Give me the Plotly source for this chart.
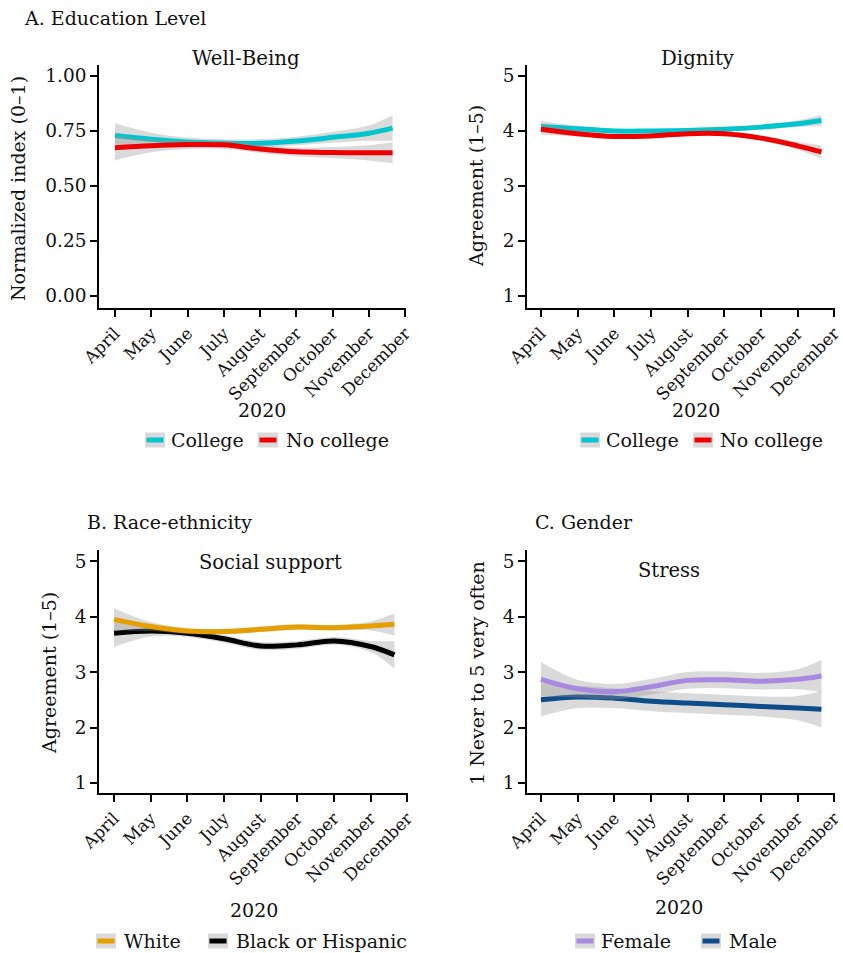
import plotly.graph_objects as go

W, H = 843, 953
FONT = "DejaVu Serif"

# ---------------- data ----------------
month_labels = ["April", "May", "June", "July", "August", "September",
                "October", "November", "December"]
month_ticks = [0, 1, 2, 3, 4, 5, 6, 7, 8]
t = [0, 1, 2, 3, 4, 5, 6, 7, 7.65]   # months since April 1, 2020

# A. Education level - Well-Being (0-1)
wb_college = [0.729, 0.712, 0.700, 0.694, 0.694, 0.704, 0.721, 0.740, 0.763]
wb_college_se = [0.056, 0.030, 0.020, 0.018, 0.018, 0.020, 0.025, 0.035, 0.058]
wb_nocollege = [0.674, 0.683, 0.688, 0.687, 0.668, 0.655, 0.652, 0.651, 0.651]
wb_nocollege_se = [0.058, 0.030, 0.020, 0.018, 0.018, 0.020, 0.025, 0.035, 0.048]

# A. Education level - Dignity (1-5)
dg_college = [4.08, 4.04, 4.00, 4.00, 4.01, 4.03, 4.07, 4.13, 4.19]
dg_college_se = [0.10, 0.05, 0.04, 0.035, 0.035, 0.04, 0.045, 0.06, 0.10]
dg_nocollege = [4.03, 3.95, 3.90, 3.91, 3.95, 3.95, 3.87, 3.73, 3.62]
dg_nocollege_se = [0.10, 0.05, 0.04, 0.035, 0.035, 0.04, 0.05, 0.07, 0.12]

# B. Race-ethnicity - Social support (1-5)
ss_white = [3.95, 3.82, 3.74, 3.73, 3.77, 3.81, 3.80, 3.83, 3.86]
ss_white_se = [0.20, 0.08, 0.05, 0.05, 0.05, 0.05, 0.05, 0.08, 0.20]
ss_black = [3.70, 3.74, 3.70, 3.60, 3.47, 3.49, 3.56, 3.46, 3.31]
ss_black_se = [0.25, 0.10, 0.07, 0.07, 0.07, 0.07, 0.07, 0.10, 0.25]

# C. Gender - Stress (1-5)
st_female = [2.87, 2.70, 2.645, 2.735, 2.85, 2.86, 2.835, 2.87, 2.93]
st_female_se = [0.31, 0.16, 0.14, 0.14, 0.15, 0.15, 0.15, 0.18, 0.29]
st_male = [2.50, 2.55, 2.53, 2.475, 2.44, 2.41, 2.38, 2.35, 2.33]
st_male_se = [0.30, 0.20, 0.18, 0.18, 0.18, 0.18, 0.18, 0.22, 0.33]

C_COLLEGE, C_NOCOLLEGE = "#00C5CD", "#EE0000"
C_WHITE, C_BLACK = "#E69F00", "#000000"
C_FEMALE, C_MALE = "#A889E0", "#0F4C8A"
RIBBON = "rgba(150,150,150,0.35)"
KEYFILL = "#D9D9D9"
FS = 19


def X(px):
    return px / W


def Y(py):
    return 1 - py / H


fig = go.Figure()

panels = {
    1: dict(xd=(99, 406), yd=(65, 308), xr=[-0.44, 8.02], yr=[-0.055, 1.05],
            tv=[0, 0.25, 0.5, 0.75, 1.0], tt=["0.00", "0.25", "0.50", "0.75", "1.00"]),
    2: dict(xd=(527, 835), yd=(65, 308), xr=[-0.38, 8.02], yr=[0.78, 5.2],
            tv=[1, 2, 3, 4, 5], tt=["1", "2", "3", "4", "5"]),
    3: dict(xd=(99, 408), yd=(550, 793), xr=[-0.41, 8.02], yr=[0.82, 5.2],
            tv=[1, 2, 3, 4, 5], tt=["1", "2", "3", "4", "5"]),
    4: dict(xd=(527, 835), yd=(550, 793), xr=[-0.38, 8.02], yr=[0.82, 5.2],
            tv=[1, 2, 3, 4, 5], tt=["1", "2", "3", "4", "5"]),
}

series = {
    1: [(wb_college, wb_college_se, C_COLLEGE), (wb_nocollege, wb_nocollege_se, C_NOCOLLEGE)],
    2: [(dg_college, dg_college_se, C_COLLEGE), (dg_nocollege, dg_nocollege_se, C_NOCOLLEGE)],
    3: [(ss_black, ss_black_se, C_BLACK), (ss_white, ss_white_se, C_WHITE)],
    4: [(st_male, st_male_se, C_MALE), (st_female, st_female_se, C_FEMALE)],
}

for k, p in panels.items():
    sfx = "" if k == 1 else str(k)
    xa, ya = "x" + sfx, "y" + sfx
    for vals, se, col in series[k]:
        lo = [v - s for v, s in zip(vals, se)]
        hi = [v + s for v, s in zip(vals, se)]
        fig.add_trace(go.Scatter(x=t, y=hi, mode="lines", line=dict(width=0, shape="spline"),
                                 xaxis=xa, yaxis=ya, showlegend=False, hoverinfo="skip"))
        fig.add_trace(go.Scatter(x=t, y=lo, mode="lines", line=dict(width=0, shape="spline"),
                                 fill="tonexty", fillcolor=RIBBON,
                                 xaxis=xa, yaxis=ya, showlegend=False, hoverinfo="skip"))
        fig.add_trace(go.Scatter(x=t, y=vals, mode="lines",
                                 line=dict(color=col, width=5, shape="spline"),
                                 xaxis=xa, yaxis=ya, showlegend=False))
    axis_common = dict(showline=True, linecolor="black", linewidth=1.5,
                       ticks="outside", ticklen=7, tickwidth=1.5, tickcolor="black",
                       showgrid=False, zeroline=False, automargin=False,
                       ticklabeloverflow="allow")
    fig.layout["xaxis" + sfx] = dict(
        domain=[X(p["xd"][0]), X(p["xd"][1])], range=p["xr"], anchor=ya,
        tickmode="array", tickvals=month_ticks, ticktext=month_labels, tickangle=-45,
        tickfont=dict(family=FONT, size=17, color="#111111"),
        **axis_common)
    fig.layout["yaxis" + sfx] = dict(
        domain=[Y(p["yd"][1]), Y(p["yd"][0])], range=p["yr"], anchor=xa,
        tickmode="array", tickvals=p["tv"], ticktext=p["tt"],
        tickfont=dict(family=FONT, size=18.5, color="#111111"),
        **axis_common)

ann = []


def text(x, y, s, size=FS, xanchor="center", angle=0):
    ann.append(dict(x=X(x), y=Y(y), xref="paper", yref="paper", text=s, showarrow=False,
                    xanchor=xanchor, yanchor="middle", textangle=angle,
                    font=dict(family=FONT, size=size, color="#111111")))


# section titles
text(22, 18, "A. Education Level", 19, "left")
text(85, 522, "B. Race-ethnicity", 19, "left")
text(533, 522, "C. Gender", 19, "left")
# panel titles
text(246, 58, "Well-Being", 19.8)
text(698, 58, "Dignity", 19.8)
text(270, 562, "Social support", 19.5)
text(669, 570, "Stress", 19.5)
# axis titles
text(262, 410, "2020")
text(696, 410, "2020")
text(254, 910, "2020")
text(679, 907, "2020")
text(18, 189, "Normalized index (0\u20131)", angle=-90)
text(476, 186, "Agreement (1\u20135)", angle=-90)
text(49, 673, "Agreement (1\u20135)", angle=-90)
text(477, 673, "1 Never to 5 very often", angle=-90)

shapes = []


def key(x0, yc, col, label, tx):
    shapes.append(dict(type="rect", xref="paper", yref="paper",
                       x0=X(x0), x1=X(x0 + 20), y0=Y(yc + 7.5), y1=Y(yc - 7.5),
                       fillcolor=KEYFILL, line=dict(width=0), layer="below"))
    shapes.append(dict(type="line", xref="paper", yref="paper",
                       x0=X(x0 + 1.5), x1=X(x0 + 18.5), y0=Y(yc), y1=Y(yc),
                       line=dict(color=col, width=5)))
    text(tx, yc, label, FS, "left")


key(145, 440, C_COLLEGE, "College", 169)
key(258, 440, C_NOCOLLEGE, "No college", 284)
key(580, 440, C_COLLEGE, "College", 604)
key(693, 440, C_NOCOLLEGE, "No college", 718)
key(96, 941, C_WHITE, "White", 122)
key(208, 941, C_BLACK, "Black or Hispanic", 234)
key(575, 941, C_FEMALE, "Female", 599)
key(701, 941, C_MALE, "Male", 727)

fig.update_layout(width=W, height=H, margin=dict(l=0, r=0, t=0, b=0, autoexpand=False),
                  paper_bgcolor="white", plot_bgcolor="white",
                  annotations=ann, shapes=shapes, showlegend=False,
                  font=dict(family=FONT, size=FS, color="#111111"))

fig.write_html("out.html", config={"displayModeBar": False},
               post_script="document.body.style.margin='0';"
                           "document.body.style.overflow='hidden';")
